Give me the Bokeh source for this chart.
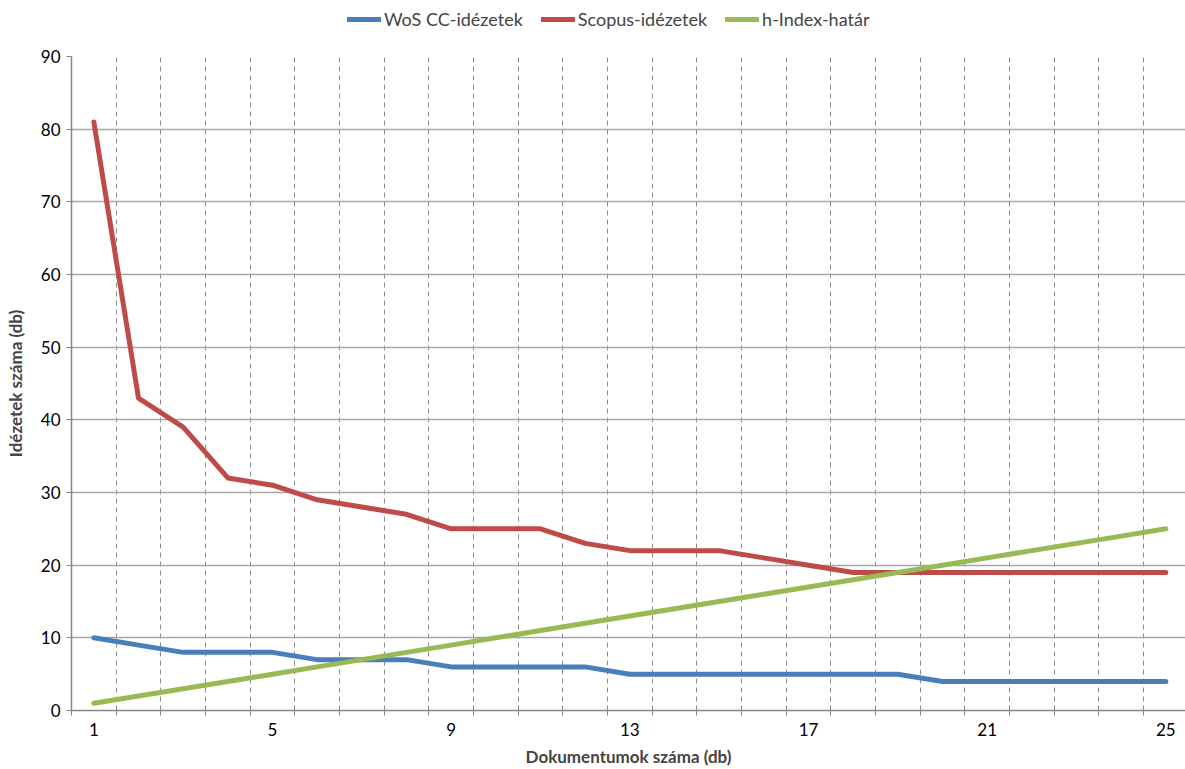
from bokeh.plotting import figure
from bokeh.models import FixedTicker, Legend, LegendItem, Range1d
from bokeh.layouts import column
from bokeh.embed import file_html
from bokeh.resources import INLINE

docs = list(range(1, 26))
wos = [10, 9, 8, 8, 8, 7, 7, 7, 6, 6, 6, 6, 5, 5, 5, 5, 5, 5, 5, 4, 4, 4, 4, 4, 4]
scopus = [81, 43, 39, 32, 31, 29, 28, 27, 25, 25, 25, 23, 22, 22, 22, 21, 20, 19, 19, 19, 19, 19, 19, 19, 19]
hindex = list(range(1, 26))
series_names = ["WoS CC-idézetek", "Scopus-idézetek", "h-Index-határ"]
x_tick_labels = [1, 5, 9, 13, 17, 21, 25]
y_ticks = list(range(0, 100, 10))

FONT = "Lato"
W = 1185
LEG_H = 40
H = 769 - LEG_H
colors = ["#4A7EBB", "#BE4B48", "#98B954"]
series = [wos, scopus, hindex]

# ---- legend strip (series drawn off-view so only the legend shows) ----
lf = figure(width=W, height=LEG_H, output_backend="svg", toolbar_location=None,
            x_range=Range1d(1000, 1001), y_range=Range1d(1000, 1001),
            x_axis_location=None, y_axis_location=None,
            min_border_left=0, min_border_right=0, min_border_top=0, min_border_bottom=0)
lf.outline_line_color = None
lf.grid.visible = False
lr = [lf.line(docs, s, line_color=c, line_width=5, line_cap="round") for s, c in zip(series, colors)]
legend = Legend(items=[LegendItem(label=n, renderers=[r]) for n, r in zip(series_names, lr)],
                orientation="horizontal", location=(276, 10))
legend.label_text_font = FONT
legend.label_text_font_size = "18px"
legend.glyph_width = 34
legend.glyph_height = 18
legend.label_standoff = 3
legend.spacing = 18
legend.padding = 0
legend.margin = 0
legend.background_fill_alpha = 0
legend.border_line_alpha = 0
lf.add_layout(legend, "center")

# ---- main chart ----
p = figure(width=W, height=H, output_backend="svg", toolbar_location=None,
           x_range=Range1d(0.5, 25.44), y_range=Range1d(0, 90),
           min_border_left=71, min_border_right=0, min_border_top=56 - LEG_H, min_border_bottom=59)
p.outline_line_color = None

r_wos = p.line(docs, wos, line_color=colors[0], line_width=5, line_cap="round", line_join="round")
r_sco = p.line(docs, scopus, line_color=colors[1], line_width=5, line_cap="round", line_join="round")
r_h = p.line(docs, hindex, line_color=colors[2], line_width=5, line_cap="round", line_join="round")

boundaries = [i + 0.5 for i in range(0, 26)]

# x axis
p.xaxis.ticker = FixedTicker(ticks=x_tick_labels, minor_ticks=boundaries)
p.xaxis.major_tick_out = 0
p.xaxis.major_tick_in = 0
p.xaxis.minor_tick_out = 5
p.xaxis.minor_tick_in = 0
p.xaxis.minor_tick_line_color = "#868686"
p.xaxis.axis_line_color = "#868686"
p.xaxis.axis_line_width = 1.5
p.xaxis.major_label_standoff = 7
p.xaxis.major_label_text_font = FONT
p.xaxis.major_label_text_font_size = "17px"
p.xaxis.major_label_text_color = "#000000"
p.xaxis.axis_label = "Dokumentumok száma (db)"
p.xaxis.axis_label_text_font = FONT
p.xaxis.axis_label_text_font_style = "bold"
p.xaxis.axis_label_text_font_size = "17px"
p.xaxis.axis_label_standoff = 7

# y axis
p.yaxis.ticker = FixedTicker(ticks=y_ticks)
p.yaxis.major_tick_out = 5
p.yaxis.major_tick_in = 0
p.yaxis.minor_tick_out = 0
p.yaxis.minor_tick_in = 0
p.yaxis.major_tick_line_color = "#868686"
p.yaxis.axis_line_color = "#868686"
p.yaxis.axis_line_width = 1.5
p.yaxis.major_label_standoff = 6
p.yaxis.major_label_text_font = FONT
p.yaxis.major_label_text_font_size = "17px"
p.yaxis.major_label_text_color = "#000000"
p.yaxis.axis_label = "Idézetek száma (db)"
p.yaxis.axis_label_text_font = FONT
p.yaxis.axis_label_text_font_style = "bold"
p.yaxis.axis_label_text_font_size = "17px"
p.yaxis.axis_label_standoff = 12

# grids
p.ygrid.ticker = FixedTicker(ticks=y_ticks)
p.ygrid.grid_line_color = "#A6A6A6"
p.ygrid.grid_line_width = 1.5
p.xgrid.ticker = FixedTicker(ticks=boundaries[1:])
p.xgrid.grid_line_color = "#8C8C8C"
p.xgrid.grid_line_dash = "5 4"
p.xgrid.grid_line_width = 1

layout = column(lf, p, spacing=0)
open("out.html", "w").write(file_html(layout, INLINE))
